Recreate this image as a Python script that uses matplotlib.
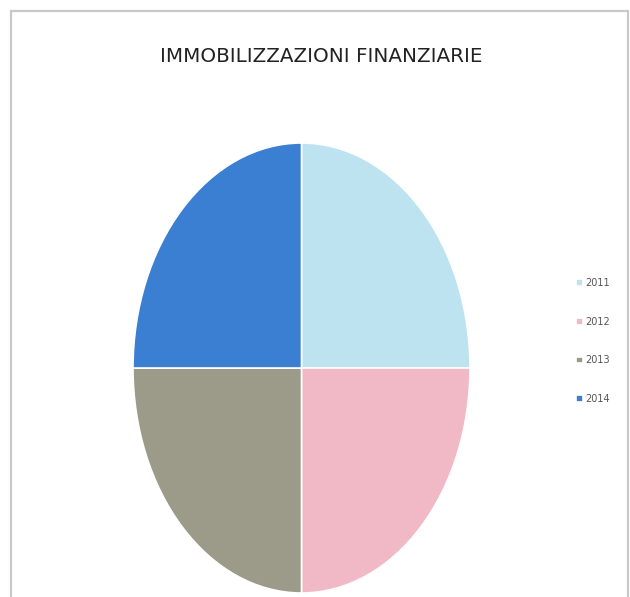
import matplotlib.pyplot as plt
from matplotlib.patches import Rectangle

# data
years = ["2011", "2012", "2013", "2014"]
values = [25, 25, 25, 25]
colors = ["#bde3f1", "#f1b8c5", "#9c9b89", "#3b7fd2"]

title = "IMMOBILIZZAZIONI FINANZIARIE"

fig = plt.figure(figsize=(6.30, 5.97), dpi=100)

# grey border around the chart area (bottom edge runs off the picture)
fig.patches.append(Rectangle((11/630, -0.02), 617/630, 1.02 - 11/597,
                             transform=fig.transFigure, fill=False,
                             edgecolor="#c9c9c9", linewidth=1.6))

# axes placed exactly on the pie box so the pie comes out as an ellipse
ax = fig.add_axes([133/630, 1 - 593/597, 337/630, 450/597])
wedges, _ = ax.pie(values, colors=colors, startangle=90, counterclock=False,
                   wedgeprops=dict(edgecolor="white", linewidth=1.2))
ax.set_aspect("auto")
ax.set_xlim(-1, 1)
ax.set_ylim(-1, 1)
ax.axis("off")

fig.text(321/630, 1 - 57/597, title, ha="center", va="center",
         fontsize=14.3, color="#222222",
         family=["DejaVu Sans Condensed", "DejaVu Sans"])

leg = fig.legend(wedges, years, loc="center left",
                 bbox_to_anchor=(567/630, 1 - 341/597),
                 frameon=False, labelspacing=2.95,
                 handlelength=0.7, handleheight=0.7, handletextpad=0.3,
                 prop=dict(family=["DejaVu Sans Condensed", "DejaVu Sans"], size=7))
for t in leg.get_texts():
    t.set_color("#555555")

fig.savefig("out.png", dpi=100)
